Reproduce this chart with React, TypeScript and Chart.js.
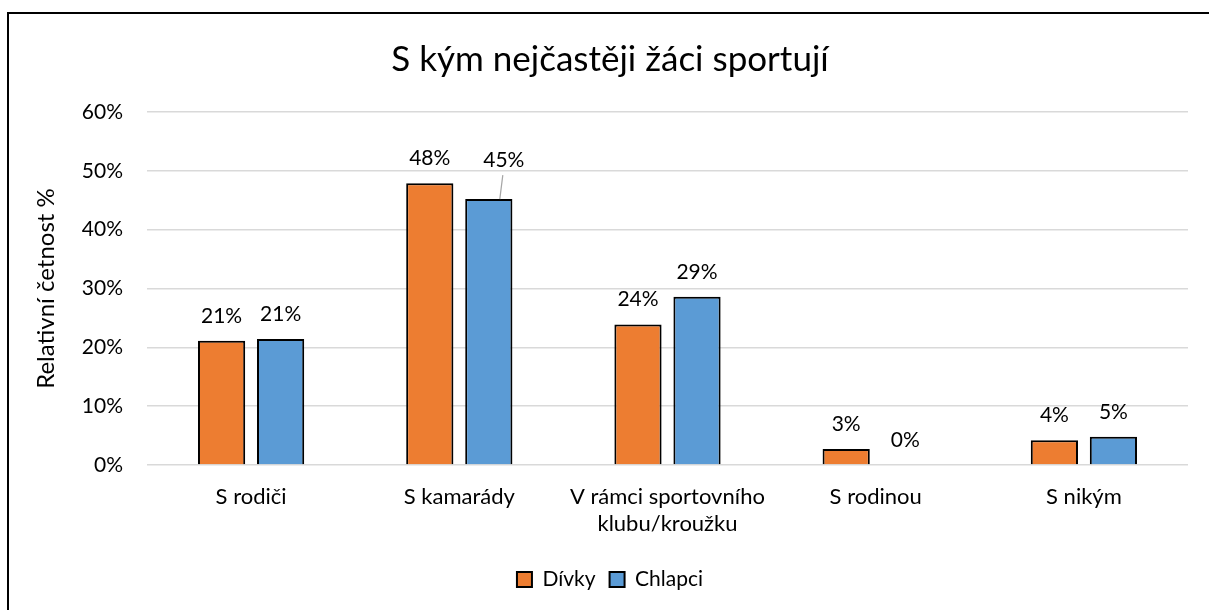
import React, { useEffect, useRef } from "react";
import { Chart, registerables } from "chart.js";

Chart.register(...registerables);

const categories: (string | string[])[] = [
  "S rodiči",
  "S kamarády",
  ["V rámci sportovního", "klubu/kroužku"],
  "S rodinou",
  "S nikým",
];
const divky = [21.1, 47.9, 23.9, 2.7, 4.2];
const chlapci = [21.4, 45.2, 28.6, 0, 4.8];
const divkyLabels = ["21%", "48%", "24%", "3%", "4%"];
const chlapciLabels = ["21%", "45%", "29%", "0%", "5%"];
const yTicks = [0, 10, 20, 30, 40, 50, 60];

const FONT = "Lato, 'Open Sans', sans-serif";

const labelPlugin = {
  id: "barLabels",
  afterDatasetsDraw(chart: any) {
    const ctx = chart.ctx;
    ctx.save();
    ctx.font = `21px ${FONT}`;
    ctx.fillStyle = "#000";
    ctx.textAlign = "center";
    ctx.textBaseline = "middle";
    const texts = [divkyLabels, chlapciLabels];
    chart.data.datasets.forEach((_: any, di: number) => {
      const meta = chart.getDatasetMeta(di);
      meta.data.forEach((bar: any, i: number) => {
        let dx = 0;
        let dy = -25;
        if (di === 1 && i === 1) {
          dx = 15;
          dy = -39;
          ctx.strokeStyle = "#a6a6a6";
          ctx.lineWidth = 1.2;
          ctx.beginPath();
          ctx.moveTo(bar.x + 14, bar.y - 24);
          ctx.lineTo(bar.x + 11, bar.y);
          ctx.stroke();
        }
        ctx.fillText(texts[di][i], bar.x + dx, bar.y + dy);
      });
    });
    ctx.restore();
  },
};

export default function App() {
  const ref = useRef<HTMLCanvasElement | null>(null);
  useEffect(() => {
    if (!ref.current) return;
    const chart = new Chart(ref.current, {
      type: "bar",
      data: {
        labels: categories,
        datasets: [
          {
            label: "Dívky",
            data: divky,
            backgroundColor: "#ED7D31",
            borderColor: "#000",
            borderWidth: 2,
            barPercentage: 0.8,
            categoryPercentage: 0.567,
          },
          {
            label: "Chlapci",
            data: chlapci,
            backgroundColor: "#5B9BD5",
            borderColor: "#000",
            borderWidth: 2,
            barPercentage: 0.8,
            categoryPercentage: 0.567,
          },
        ],
      },
      options: {
        responsive: false,
        animation: false,
        layout: { padding: { left: 32, right: 21, top: 0, bottom: 10 } },
        plugins: {
          title: {
            display: true,
            text: "S kým nejčastěji žáci sportují",
            color: "#000",
            font: { family: FONT, size: 35, weight: "normal" },
            padding: { top: 39, bottom: 31 },
          },
          legend: {
            position: "bottom",
            labels: {
              boxWidth: 15,
              boxHeight: 15,
              color: "#000",
              font: { family: FONT, size: 21 },
              padding: 14,
            },
          },
          tooltip: { enabled: false },
        },
        scales: {
          x: {
            grid: { display: false, drawTicks: false },
            border: { display: false },
            ticks: {
              color: "#000",
              font: { family: FONT, size: 22, lineHeight: 1.25 },
              padding: 18,
              maxRotation: 0,
              autoSkip: false,
            },
            afterFit: (s: any) => {
              s.height = 90;
            },
          },
          y: {
            min: 0,
            max: 60,
            afterBuildTicks: (s: any) => {
              s.ticks = yTicks.map((v) => ({ value: v }));
            },
            grid: { color: "#d9d9d9", lineWidth: 1.5, drawTicks: false },
            border: { display: false },
            ticks: {
              color: "#000",
              font: { family: FONT, size: 21 },
              padding: 24,
              callback: (v: any) => `${v}%`,
            },
            title: {
              display: true,
              text: "Relativní četnost %",
              color: "#000",
              font: { family: FONT, size: 24 },
              padding: 0,
            },
            afterFit: (s: any) => {
              s.width = 115;
            },
          },
        },
      },
      plugins: [labelPlugin],
    });
    return () => chart.destroy();
  }, []);
  return (
    <div
      style={{
        position: "fixed",
        left: 0,
        top: 0,
        width: 1209,
        height: 610,
        overflow: "hidden",
        background: "#fff",
      }}
    >
      <div
        style={{
          position: "absolute",
          left: 7,
          top: 12,
          width: 1300,
          height: 700,
          border: "2px solid #000",
        }}
      />
      <canvas
        ref={ref}
        width={1209}
        height={610}
        style={{ position: "absolute", left: 0, top: 0 }}
      />
    </div>
  );
}
